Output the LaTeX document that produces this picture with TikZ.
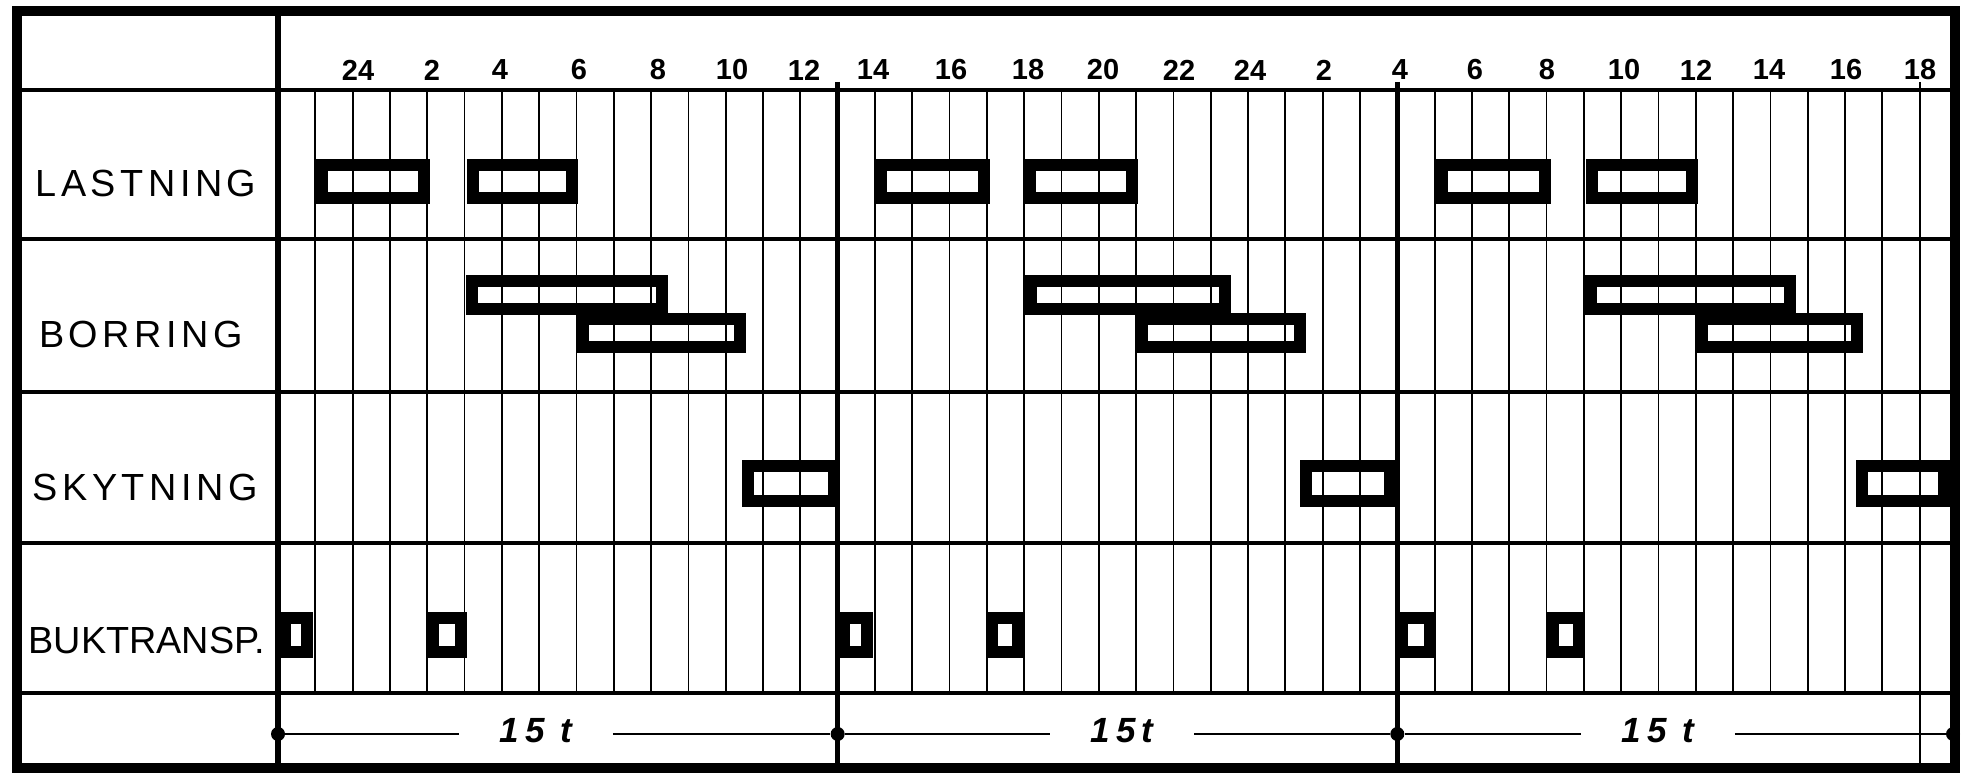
\documentclass[tikz,border=0pt]{standalone}
\usepackage{fontspec}
\newfontfamily\hand{Liberation Sans}
\begin{document}
\begin{tikzpicture}[x=0.5pt,y=-0.5pt,
  frame/.style={line width=5pt},
  divline/.style={line width=3pt},
  rowline/.style={line width=2.3pt},
  gridline/.style={line width=0.9pt},
  shiftline/.style={line width=2.5pt},
  bar/.style={line width=6pt},
  dimline/.style={line width=0.9pt},
  dot/.style={circle,fill=black,inner sep=0pt,minimum size=7pt},
  rowlabel/.style={font={\hand\addfontfeature{LetterSpace=12}\fontsize{18.9pt}{20pt}\selectfont},inner sep=0pt},
  tightlabel/.style={font={\hand\fontsize{18.9pt}{20pt}\selectfont},inner sep=0pt},
  hourlabel/.style={font={\hand\bfseries\fontsize{14.5pt}{16pt}\selectfont},inner sep=0pt},
  spanlabel/.style={font={\hand\bfseries\itshape\addfontfeature{LetterSpace=18}\fontsize{17.5pt}{18pt}\selectfont},inner xsep=20pt,inner ysep=0pt}
]
\useasboundingbox (0,0) rectangle (1968,774);
% thin hour lines
\foreach \k in {1,...,14,16,17,...,29,31,32,...,43}
  \draw[gridline] ({278+37.31*\k},90) -- ({278+37.31*\k},693);
\draw[gridline] ({278+37.31*44},82) -- ({278+37.31*44},768);
% horizontal row lines
\foreach \y in {90,239,392,543,693}
  \draw[rowline] (17,\y) -- (1955,\y);
% 15 h boundaries
\draw[shiftline] ({278+37.31*15},82) -- ({278+37.31*15},768);
\draw[shiftline] ({278+37.31*30},82) -- ({278+37.31*30},768);
% label column divider
\draw[divline] (278,11) -- (278,768);
% bars
\foreach \a/\b in {315.6/429.5,466.5/578,875/990,1024/1137.5,1436/1550.5,1585.5/1698}
  \draw[bar] (\a+6,165) rectangle (\b-6,198);
\foreach \a/\b in {466/668,1024.5/1231,1584.6/1795.5}
  \draw[bar] (\a+6,281) rectangle (\b-6,309);
\foreach \a/\b in {577/746,1135.5/1305.6,1696/1863}
  \draw[bar] (\a+6,319) rectangle (\b-6,347);
\foreach \a/\b in {742/840,1299.5/1396,1856/1950}
  \draw[bar] (\a+6,466) rectangle (\b-6,501);
\foreach \a/\b in {279/312.5,427/466.5,837.5/873,986/1024,1396/1435.5,1547/1584.6}
  \draw[bar] (\a+6,618) rectangle (\b-6,652);
% outer frame
\draw[frame] (17,11) rectangle (1955,768);
% row labels
\node[rowlabel] (lastning) at (146,183) {LASTNING};
\node[rowlabel] (borring) at (141,334) {BORRING};
\node[rowlabel] (skytning) at (145,487) {SKYTNING};
\node[tightlabel] (buktransp) at (147,640) {BUKTRANSP.};
% hour labels
\foreach \x/\t [count=\i] in {358/24,432/2,500/4,579/6,658/8,732/10,804/12,873/14,951/16,1028/18,1103/20,1179/22,1250/24,1324/2,1400/4,1475/6,1547/8,1624/10,1696/12,1769/14,1846/16,1920/18}
  \node[hourlabel] (h\i) at (\x,70) {\t};
% span dimension line
\node[dot] (d0) at (278,734) {};
\node[dot] (d1) at ({278+37.31*15},734) {};
\node[dot] (d2) at ({278+37.31*30},734) {};
\node[dot] (d3) at (1953,734) {};
\node[spanlabel] (t1) at (536,731) {15 t};
\node[spanlabel] (t2) at (1122,731) {15t};
\node[spanlabel] (t3) at (1658,731) {15 t};
\draw[dimline] (d0) -- (d0 -| t1.west);
\draw[dimline] (d1 -| t1.east) -- (d1);
\draw[dimline] (d1) -- (d1 -| t2.west);
\draw[dimline] (d2 -| t2.east) -- (d2);
\draw[dimline] (d2) -- (d2 -| t3.west);
\draw[dimline] (d3 -| t3.east) -- (d3);
\end{tikzpicture}
\end{document}
